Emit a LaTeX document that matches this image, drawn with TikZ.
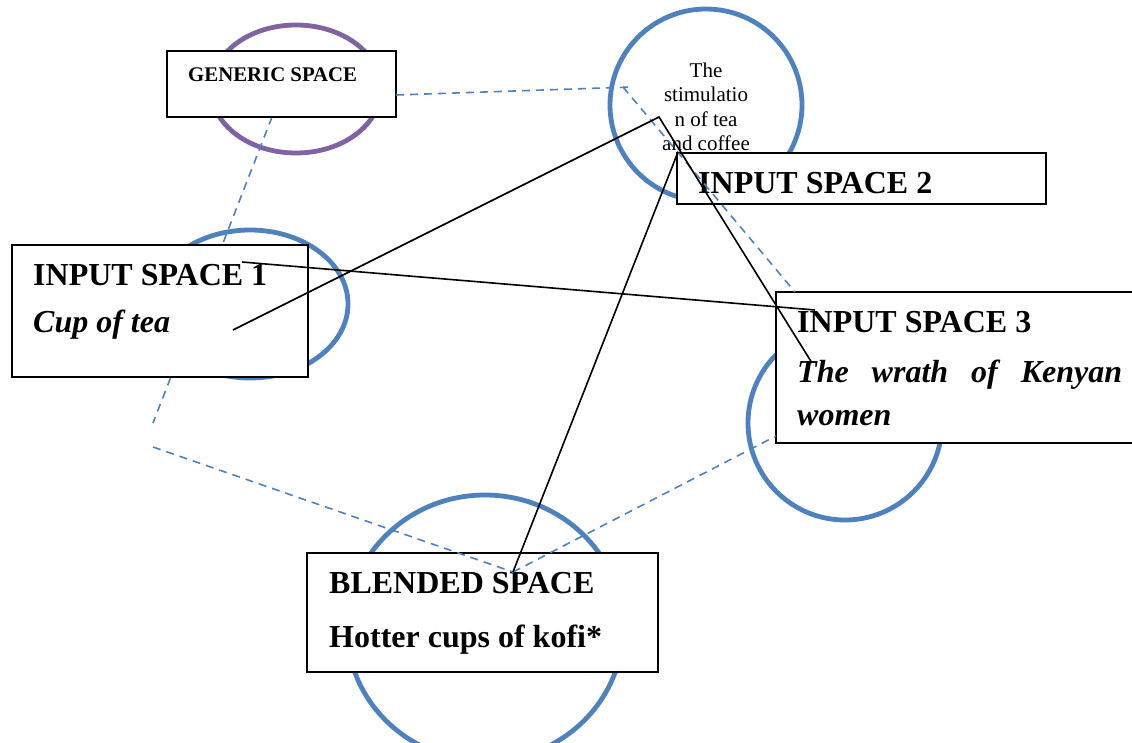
\documentclass[tikz,border=0pt]{standalone}
\usepackage{fontspec}
\setmainfont{Liberation Serif}
\definecolor{ringblue}{RGB}{79,129,189}
\definecolor{ringpurple}{RGB}{128,100,162}
\definecolor{dashblue}{RGB}{79,129,189}
\begin{document}
\begin{tikzpicture}[x=1pt,y=-1pt,
  ring/.style={draw=ringblue, line width=4.8pt},
  genring/.style={draw=ringpurple, line width=4.8pt},
  spacebox/.style={draw=black, line width=1.8pt, fill=white, inner sep=0pt, rectangle},
  mapline/.style={draw=dashblue, line width=1.6pt, dash pattern=on 8pt off 6pt},
  link/.style={draw=black, line width=1.6pt},
  heading/.style={font=\bfseries\fontsize{32}{36}\selectfont, anchor=base west, inner sep=0pt},
  content/.style={font=\bfseries\itshape\fontsize{32}{36}\selectfont, anchor=base west, inner sep=0pt},
]
\clip (0,0) rectangle (1132,742);

% mental spaces drawn as rings
\draw[genring] (296,89) ellipse [x radius=85pt, y radius=64pt];
\draw[ring] (706,105) circle [radius=96pt];
\draw[ring] (250,304) ellipse [x radius=98pt, y radius=74pt];
\draw[ring] (845,423) circle [radius=97pt];
\draw[ring] (485,628) ellipse [x radius=138pt, y radius=133pt];

% anchor points for the mapping lines
\coordinate (genright) at (396,95);
\coordinate (gencorner) at (632,87);
\coordinate (gencornerb) at (623,87);
\coordinate (inthreetop) at (795,292);
\coordinate (genbottom) at (272,117);
\coordinate (leftlow) at (153,423);
\coordinate (leftlowb) at (153,447);
\coordinate (blendpt) at (513,572);
\coordinate (inthreeleft) at (776,436);
\coordinate (teapt) at (233,330);
\coordinate (hub) at (659,117);
\coordinate (spaceone) at (242,262);
\coordinate (spacethree) at (815,310);
\coordinate (wrathpt) at (812,363);
\coordinate (boxcorner) at (678,152);

% generic space to input 1 (passes under the box)
\draw[mapline] (genbottom) -- (leftlow);

% labelled boxes
\node[spacebox, minimum width=229pt, minimum height=66pt] (generic) at (281.5,84) {};
\node[spacebox, minimum width=369pt, minimum height=51pt] (inputtwo) at (861.5,178.5) {};
\node[spacebox, minimum width=296pt, minimum height=132pt] (inputone) at (160,311) {};
\node[spacebox, minimum width=364pt, minimum height=151pt] (inputthree) at (958,367.5) {};
\node[spacebox, minimum width=351pt, minimum height=119pt] (blended) at (482.5,612.5) {};

% texts
\node[font=\bfseries\fontsize{20.8}{24}\selectfont, anchor=base west, inner sep=0pt] (gentext) at (188,81) {GENERIC SPACE};
\node[font=\fontsize{21}{24.5}\selectfont, align=center, inner sep=0pt] (stimtext) at (706,107)
  {The\\stimulatio\\n of tea\\and coffee};
\node[heading] (twotitle) at (698,193) {INPUT SPACE 2};
\node[heading] (onetitle) at (33,285) {INPUT SPACE 1};
\node[content] (onetext) at (33,332) {Cup of tea};
\node[heading] (threetitle) at (797,332) {INPUT SPACE 3};
\node[content] (threetexta) at (797,382) {\hbox to 325pt{The\hfill wrath\hfill of\hfill Kenyan}};
\node[content] (threetextb) at (797,425) {women};
\node[heading] (blendtitle) at (329,593) {BLENDED SPACE};
\node[heading] (blendtext) at (329,647) {Hotter cups of kofi*};

% dashed mapping lines
\draw[mapline] (genright) -- (gencorner);
\draw[mapline] (gencornerb) -- (inthreetop);
\draw[mapline] (leftlowb) -- (blendpt);
\draw[mapline] (blendpt) -- (inthreeleft);

% solid connectors
\draw[link] (teapt) -- (hub) -- (wrathpt);
\draw[link] (spaceone) -- (spacethree);
\draw[link] (boxcorner) -- (blendpt);
\end{tikzpicture}
\end{document}
